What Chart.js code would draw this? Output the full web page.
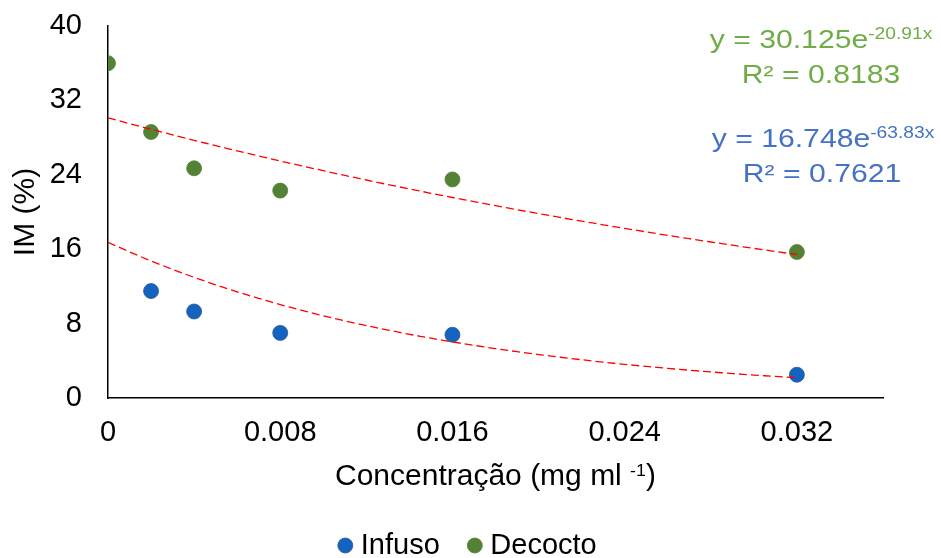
<!DOCTYPE html>
<html>
<head>
<meta charset="utf-8">
<script src="https://cdn.jsdelivr.net/npm/chart.js@4.4.1/dist/chart.umd.min.js"></script>
<style>
  html, body { margin: 0; padding: 0; background: #fff; overflow: hidden; }
  #wrap { width: 941px; height: 570px; }
</style>
</head>
<body>
<div id="wrap"><canvas id="chart" width="941" height="570"></canvas></div>
<script>
// ====== DATA ======
const concInfuso = [0.002, 0.004, 0.008, 0.016, 0.032];
const imInfuso = [11.5, 9.3, 7.0, 6.8, 2.5];
const concDecocto = [0, 0.002, 0.004, 0.008, 0.016, 0.032];
const imDecocto = [36.0, 28.6, 24.7, 22.3, 23.5, 15.7];

const xTicks = [0, 0.008, 0.016, 0.024, 0.032];
const yTicks = [0, 8, 16, 24, 32, 40];

// exponential trendlines y = a*e^(b*x), as printed on the chart
const fitInfuso = { a: 16.748, b: -63.83, r2: '0.7621' };
const fitDecocto = { a: 30.125, b: -20.91, r2: '0.8183' };
const fitRange = [0, 0.032];

// ====== STYLE ======
const FONT = '"Liberation Sans", Arial, sans-serif';
const COL_INF = '#1363BF';
const COL_DEC = '#548235';
const COL_INF_TXT = '#4472C4';
const COL_DEC_TXT = '#70AD47';

function toPoints(xs, ys) { return xs.map((x, i) => ({ x, y: ys[i] })); }

function trendPoints(fit) {
  const pts = [];
  const n = 64;
  for (let i = 0; i <= n; i++) {
    const x = fitRange[0] + (fitRange[1] - fitRange[0]) * i / n;
    pts.push({ x, y: fit.a * Math.exp(fit.b * x) });
  }
  return pts;
}

// text runs with optional superscript, centred on cx
// st = { size, sx, supSize, supSx, raise }
function drawRich(ctx, runs, cx, baseline, color, st) {
  const fontOf = r => `${r.sup ? st.supSize : st.size}px ${FONT}`;
  const sxOf = r => (r.sup ? st.supSx : st.sx);
  let total = 0;
  runs.forEach(r => { ctx.font = fontOf(r); total += ctx.measureText(r.t).width * sxOf(r); });
  let x = cx - total / 2;
  ctx.fillStyle = color;
  ctx.textBaseline = 'alphabetic';
  ctx.textAlign = 'left';
  runs.forEach(r => {
    ctx.font = fontOf(r);
    const w = ctx.measureText(r.t).width * sxOf(r);
    ctx.save();
    ctx.translate(x, r.sup ? baseline - st.raise : baseline);
    ctx.scale(sxOf(r), 1);
    ctx.fillText(r.t, 0, 0);
    ctx.restore();
    x += w;
  });
}

const eqStyle = { size: 26, sx: 1.16, supSize: 16, supSx: 1.2, raise: 9.5 };
const axisTitleStyle = { size: 30, sx: 1, supSize: 17, supSx: 1.05, raise: 9 };

const labelsPlugin = {
  id: 'labels',
  afterDraw(chart) {
    const ctx = chart.ctx;
    const ca = chart.chartArea;
    ctx.save();
    // x axis title with superscript unit
    drawRich(ctx, [{ t: 'Concentração (mg ml ' }, { t: '-1', sup: true }, { t: ')' }],
      (ca.left + ca.right) / 2, 485, '#000', axisTitleStyle);
    // trendline equations
    drawRich(ctx, [{ t: 'y = ' + fitDecocto.a.toFixed(3) + 'e' }, { t: fitDecocto.b.toFixed(2) + 'x', sup: true }],
      821, 48, COL_DEC_TXT, eqStyle);
    drawRich(ctx, [{ t: 'R² = ' + fitDecocto.r2 }], 821, 83, COL_DEC_TXT, eqStyle);
    drawRich(ctx, [{ t: 'y = ' + fitInfuso.a.toFixed(3) + 'e' }, { t: fitInfuso.b.toFixed(2) + 'x', sup: true }],
      823, 147, COL_INF_TXT, eqStyle);
    drawRich(ctx, [{ t: 'R² = ' + fitInfuso.r2 }], 822, 182, COL_INF_TXT, eqStyle);
    ctx.restore();
  }
};

const trendStyle = {
  type: 'line',
  showLine: true,
  borderColor: '#FF0000',
  borderWidth: 1.3,
  borderDash: [8, 4],
  pointRadius: 0,
  fill: false,
  tension: 0,
  order: 0
};

const chart = new Chart(document.getElementById('chart'), {
  type: 'scatter',
  data: {
    datasets: [
      {
        label: 'Infuso',
        data: toPoints(concInfuso, imInfuso),
        backgroundColor: COL_INF,
        borderColor: '#2F5597',
        borderWidth: 0.8,
        pointRadius: 7.5,
        order: 1
      },
      {
        label: 'Decocto',
        data: toPoints(concDecocto, imDecocto),
        backgroundColor: COL_DEC,
        borderColor: COL_DEC,
        borderWidth: 0.8,
        pointRadius: 7.5,
        order: 1
      },
      Object.assign({ label: 'trendInfuso', data: trendPoints(fitInfuso) }, trendStyle),
      Object.assign({ label: 'trendDecocto', data: trendPoints(fitDecocto) }, trendStyle)
    ]
  },
  options: {
    responsive: false,
    animation: false,
    layout: { padding: { top: 26, left: 0, right: 0, bottom: 0 } },
    scales: {
      x: {
        type: 'linear',
        min: 0,
        max: 0.036,
        grid: { display: false, drawTicks: false },
        border: { display: true, color: '#000', width: 1.5 },
        ticks: {
          padding: 17.6,
          color: '#000',
          font: { family: FONT, size: 29 },
          callback: v => String(v)
        },
        afterBuildTicks: s => { s.ticks = xTicks.map(v => ({ value: v })); },
        afterFit: s => { s.height = 99; s.paddingRight = 58; }
      },
      y: {
        min: 0,
        max: 40,
        grid: { display: false, drawTicks: false },
        border: { display: true, color: '#000', width: 1.5 },
        ticks: {
          padding: 26,
          color: '#000',
          font: { family: FONT, size: 29 }
        },
        afterBuildTicks: s => { s.ticks = yTicks.map(v => ({ value: v })); },
        title: {
          display: true,
          text: 'IM (%)',
          color: '#000',
          font: { family: FONT, size: 30 },
          padding: { top: 8, bottom: 0 }
        },
        afterFit: s => { s.width = 108; s.paddingTop = 0; s.paddingBottom = 0; }
      }
    },
    plugins: {
      tooltip: { enabled: false },
      legend: {
        position: 'bottom',
        labels: {
          usePointStyle: true,
          pointStyle: 'circle',
          boxWidth: 2,
          boxHeight: 10.6,
          padding: 34,
          color: '#000',
          font: { family: FONT, size: 29 },
          filter: item => !item.text.startsWith('trend')
        }
      }
    }
  },
  plugins: [labelsPlugin]
});
</script>
</body>
</html>
